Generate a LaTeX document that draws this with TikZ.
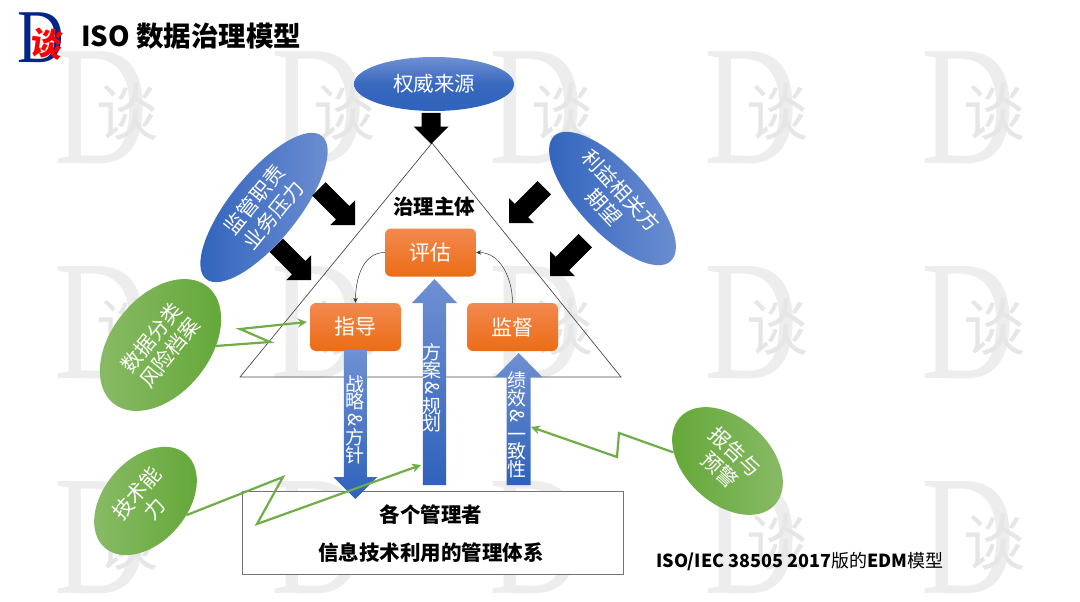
\documentclass[tikz,border=0pt]{standalone}
\usepackage{fontspec}
\setmainfont{Noto Sans CJK SC}
\newfontfamily\wmfont{Liberation Serif}
\usetikzlibrary{shapes.geometric,arrows.meta}
\definecolor{bluedark}{HTML}{2F62BC}
\definecolor{bluelight}{HTML}{6F90D2}
\definecolor{greendark}{HTML}{62A736}
\definecolor{greenlight}{HTML}{8ABB68}
\definecolor{zig}{HTML}{70AD47}
\definecolor{wm}{HTML}{EDEDED}
\definecolor{wmb}{HTML}{E6E6E6}
\definecolor{orangetop}{HTML}{F2894F}
\definecolor{orangebot}{HTML}{EC6C15}
\tikzset{
  x=1pt,y=-1pt,
  oval/.style={ellipse,inner sep=0pt,text=white,align=center,font=\fontsize{20.5}{24}\selectfont},
  bluetoplit/.style={oval,top color=bluelight,bottom color=bluedark,middle color=bluedark!85!bluelight},
  blueoval/.style={oval,left color=bluedark,middle color=bluedark,right color=bluelight},
  greenoval/.style={oval,left color=greenlight,middle color=greendark!70!greenlight,right color=greendark},
  greenovalr/.style={oval,left color=greendark,middle color=greendark,right color=greenlight},
  orangebox/.style={rounded corners=6pt,minimum width=91pt,minimum height=48pt,inner sep=0pt,text=white,
     top color=orangetop,bottom color=orangebot,font=\fontsize{21}{25}\selectfont},
  zigline/.style={draw=zig,line width=2.2pt,-{Stealth[length=9pt,width=9pt]},line join=miter},
  flow/.style={black!80,line width=.5pt,-{Stealth[length=5pt,width=4.5pt]}},
  arrowlabel/.style={text=white,align=center,inner sep=0pt,font=\fontsize{19}{17.8}\selectfont},
  boldlabel/.style={inner sep=0pt,font=\bfseries\fontsize{20.5}{24}\selectfont},
}
\newcommand{\vamp}{\smash{\rotatebox[origin=c]{-90}{\&}}}
% black block arrow: tip x, tip y, screen angle, length
\newcommand{\blackarrow}[4]{%
  \begin{scope}[shift={(#1,#2)},rotate=#3]
    \fill[black] (0,0) -- (-17.5,17.5) -- (-17.5,9.5) -- (-#4,9.5) -- (-#4,-9.5) -- (-17.5,-9.5) -- (-17.5,-17.5) -- cycle;
  \end{scope}}
% blue vertical arrow: x centre, y tip, y head base, y tail, half shaft, half head
\newcommand{\bluearrow}[6]{%
  \shade[top color=bluelight,bottom color=bluedark]
    (#1,#2) -- (#1+#6,#3) -- (#1+#5,#3) -- (#1+#5,#4) -- (#1-#5,#4) -- (#1-#5,#3) -- (#1-#6,#3) -- cycle;}
\newcommand{\wmark}[2]{%
  \node[inner sep=0pt,text=wm,font=\wmfont\fontsize{171}{171}\selectfont] (wmd#1#2) at (#1+46,#2+58) {\scalebox{.76}[1]{D}};
  \node[inner sep=0pt,text=wmb,font=\fontsize{62}{62}\selectfont] (wmt#1#2) at (#1+72,#2+62) {谈};
}
\begin{document}
\begin{tikzpicture}
\useasboundingbox (0,0) rectangle (1080,602);
\fill[white] (0,0) rectangle (1080,602);
\foreach \wy in {50,265,480}{
  \foreach \wx in {55,272,490,705,922}{
    \wmark{\wx}{\wy}
  }
}
% logo
\node[inner sep=0pt,text=blue!45!black!85!cyan,font=\wmfont\fontsize{76}{76}\selectfont] (logod) at (41,37.5) {\scalebox{.85}[1]{D}};
\node[inner sep=0pt,text=red,font=\bfseries\fontsize{32}{32}\selectfont,rotate=-8] (logot) at (47,44) {谈};
% title
\node[anchor=west,inner sep=0pt,font=\bfseries\fontsize{27.5}{31}\selectfont] (title) at (81,36) {ISO 数据治理模型};
% triangle and box
\coordinate (tapex) at (432,143);
\coordinate (tleft) at (240,377);
\coordinate (tright) at (621,377);
\draw[black!70,line width=.7pt,line join=miter] (tapex) -- (tright) -- (tleft) -- cycle;
\node[draw=black!55,fill=white,line width=.9pt,minimum width=381pt,minimum height=83pt,inner sep=0pt] (mgr) at (432.5,532.5) {};
% ovals
\node[bluetoplit,minimum width=160pt,minimum height=54pt] (auth) at (434,84) {权威来源};
\node[blueoval,rotate=51,minimum width=184pt,minimum height=68pt] (sup) at (264,207.5) {监管职责\\业务压力};
\node[blueoval,rotate=-47,minimum width=171pt,minimum height=68pt] (stake) at (612.5,198.5) {利益相关方\\期望};
\node[greenoval,rotate=51,minimum width=150pt,minimum height=98pt] (risk) at (160.5,345) {数据分类\\风险档案};
\node[greenoval,rotate=49,minimum width=124pt,minimum height=83pt] (tech) at (145.5,501) {技术能\\力};
\node[greenovalr,rotate=-43,minimum width=129pt,minimum height=85pt] (report) at (727.5,461) {报告与\\预警};
% black arrows
\blackarrow{431}{144}{-90}{31}
\blackarrow{355}{225}{-45}{51}
\blackarrow{509}{223}{-135}{50}
\blackarrow{311}{280}{-45}{49}
\blackarrow{550}{276}{-135}{50}
% orange boxes
\node[orangebox] (eval) at (430.5,252.5) {评估};
\node[orangebox] (direct) at (355.5,327) {指导};
\node[orangebox] (monitor) at (512.5,327) {监督};
% blue arrows
\bluearrow{355.3}{499}{477}{350}{11.5}{22}
\bluearrow{434.5}{279}{303}{485}{11.7}{22.5}
\bluearrow{518.7}{353}{377}{485}{12}{23.5}
\node[arrowlabel] (dnl) at (355,419.5) {战\\略\\\vamp\\方\\针};
\node[arrowlabel] (upal) at (432,388) {方\\案\\\vamp\\规\\划};
\node[arrowlabel] (upbl) at (517,425) {绩\\效\\\vamp\\一\\致\\性};
% curved flows
\draw[flow] (eval.west) to[out=180,in=90] (direct.north);
\draw[flow] (monitor.north) to[out=90,in=0] (eval.east);
% zig-zags
\coordinate (z1a) at (270,342);
\coordinate (z1b) at (240,329);
\coordinate (z2a) at (283,477);
\coordinate (z2b) at (257,524);
\coordinate (z2c) at (421,465);
\coordinate (z3a) at (619,433);
\coordinate (z3b) at (617,457);
\coordinate (z3c) at (531,427);
\draw[zigline] (risk.-52) -- (z1a) -- (z1b) -- ([xshift=-3pt,yshift=5pt]direct.west);
\draw[zigline] (tech.-68) -- (z2a) -- (z2b) -- (z2c);
\draw[zigline] (report.214) -- (z3a) -- (z3b) -- (z3c);
% labels
\node[boldlabel] (gov) at (434,207) {治理主体};
\node[boldlabel] (mgr1) at (431,515) {各个管理者};
\node[boldlabel] (mgr2) at (431,553) {信息技术利用的管理体系};
\node[anchor=west,inner sep=0pt,font=\fontsize{18}{22}\selectfont] (foot) at (656,562) {\textbf{ISO/IEC 38505 2017}版的\textbf{EDM}模型};
\end{tikzpicture}
\end{document}
